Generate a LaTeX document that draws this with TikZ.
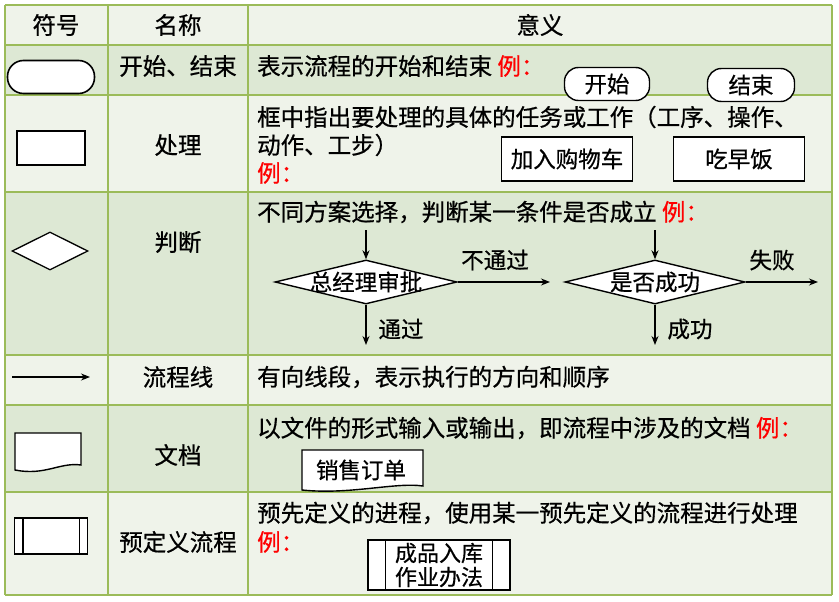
\documentclass[tikz,border=0pt]{standalone}
\usepackage{fontspec}
\setmainfont{Noto Sans CJK SC}[FakeBold=0.6,AutoFakeBold=0.6]
\usetikzlibrary{shapes.geometric,arrows.meta}
\definecolor{lt}{HTML}{EFF3EA}
\definecolor{dk}{HTML}{DDE8D4}
\definecolor{bd}{HTML}{9BBB59}
\begin{document}
\begin{tikzpicture}[x=1pt,y=-1pt,
  txt/.style={inner sep=0pt,font=\fontsize{23.5}{27}\selectfont\bfseries},
  lt3/.style={txt,anchor=west},
  red/.style={text=red},
  shp/.style={draw=black,line width=1.6pt,fill=white},
  term/.style={shp,rounded corners=16pt},
  ex/.style={draw=black,line width=1.4pt,fill=white,inner sep=2pt,font=\fontsize{22.5}{25}\selectfont},
  extxt/.style={inner sep=0pt,font=\fontsize{22.5}{25}\selectfont},
  arr/.style={-{Stealth[length=9pt,width=7pt]},line width=1.3pt}]
\useasboundingbox (0,0) rectangle (839,602);
\fill[white] (0,0) rectangle (839,602);
% row backgrounds
\fill[lt] (5,5) rectangle (832,45);
\fill[dk] (5,45) rectangle (832,95);
\fill[lt] (5,95) rectangle (832,192);
\fill[dk] (5,192) rectangle (832,355);
\fill[lt] (5,355) rectangle (832,405);
\fill[dk] (5,405) rectangle (832,492);
\fill[lt] (5,492) rectangle (832,595);
\foreach \y in {5,45,95,192,355,405,492,595} \draw[bd,line width=1.2pt] (5,\y) -- (832,\y);
\foreach \x in {5,108,248,832} \draw[bd,line width=1.2pt] (\x,5) -- (\x,595);
% header
\node[txt] (h1) at (56,25) {符号};
\node[txt] (h2) at (178,25) {名称};
\node[txt] (h3) at (540,25) {意义};
% row 1
\node[term,minimum width=87pt,minimum height=33pt,rounded corners=16pt] (s1) at (51,77) {};
\node[txt] (n1) at (178,66) {开始、结束};
\node[lt3] (d1) at (257,66) {表示流程的开始和结束 \textcolor{red}{例：}};
\node[ex,rounded corners=14pt,minimum width=85pt,minimum height=33pt] (e1a) at (607,84) {开始};
\node[ex,rounded corners=14pt,minimum width=87pt,minimum height=33pt] (e1b) at (751,85) {结束};
% row 2
\node[shp,minimum width=68pt,minimum height=34pt,line width=1.4pt] (s2) at (51,148) {};
\node[txt] (n2) at (178,145) {处理};
\node[lt3] (d2a) at (257,117) {框中指出要处理的具体的任务或工作（工序、操作、};
\node[lt3] (d2b) at (257,145) {动作、工步）};
\node[lt3,red] (d2c) at (257,173) {例：};
\node[ex,minimum width=131pt,minimum height=44pt] (e2a) at (567,159) {加入购物车};
\node[ex,minimum width=131pt,minimum height=44pt] (e2b) at (739,159) {吃早饭};
% row 3
\node[shp,diamond,aspect=2,minimum width=76pt,minimum height=38pt,inner sep=0pt,line width=1.3pt] (s3) at (50,251) {};
\node[txt] (n3) at (178,242) {判断};
\node[lt3] (d3) at (257,212) {不同方案选择，判断某一条件是否成立 \textcolor{red}{例：}};
\node[ex,diamond,aspect=4.2,minimum width=182pt,minimum height=44pt,inner sep=0pt] (q1) at (366,282) {};
\node[extxt] (q1t) at (q1) {总经理审批};
\node[ex,diamond,aspect=4.2,minimum width=180pt,minimum height=44pt,inner sep=0pt] (q2) at (655,282) {};
\node[extxt] (q2t) at (q2) {是否成功};
\coordinate (q1in) at (366,230);
\coordinate (q1r) at (550,282);
\coordinate (q1d) at (366,345);
\coordinate (q2in) at (655,230);
\coordinate (q2r) at (818,282);
\coordinate (q2d) at (655,345);
\draw[arr] (q1in) -- (q1.north);
\draw[arr] (q1.east) -- (q1r);
\draw[arr] (q1.south) -- (q1d);
\draw[arr] (q2in) -- (q2.north);
\draw[arr] (q2.east) -- (q2r);
\draw[arr] (q2.south) -- (q2d);
\node[extxt] (l1) at (495,260) {不通过};
\node[extxt] (l2) at (401,329) {通过};
\node[extxt] (l3) at (772,260) {失败};
\node[extxt] (l4) at (690,329) {成功};
% row 4
\coordinate (a1) at (12,377);
\coordinate (a2) at (90,377);
\draw[arr,line width=1.1pt] (a1) -- (a2);
\node[txt] (n4) at (178,377) {流程线};
\node[lt3] (d4) at (257,377) {有向线段，表示执行的方向和顺序};
% row 5
\coordinate (s5) at (15,433);
\draw[shp,line width=1.4pt] (s5) -- (81,433) -- (81,465) .. controls (60,462) and (45,476) .. (15,470) -- cycle;
\node[txt] (n5) at (178,455) {文档};
\node[lt3] (d5) at (257,428) {以文件的形式输入或输出，即流程中涉及的文档 \textcolor{red}{例：}};
\draw[line width=1.4pt,fill=white] (302,450) -- (423,450) -- (423,486) .. controls (395,482) and (350,495) .. (302,490) -- cycle;
\node[extxt] (e5) at (361,470) {销售订单};
% row 6
\node[shp,minimum width=73pt,minimum height=36pt,line width=1.4pt] (s6) at (51,536) {};
\draw[line width=1.4pt] ([xshift=9pt]s6.north west) -- ([xshift=9pt]s6.south west);
\draw[line width=1.4pt] ([xshift=-9pt]s6.north east) -- ([xshift=-9pt]s6.south east);
\node[txt] (n6) at (178,542) {预定义流程};
\node[lt3] (d6a) at (257,513) {预先定义的进程，使用某一预先定义的流程进行处理};
\node[lt3,red] (d6b) at (257,542) {例：};
\node[ex,minimum width=142pt,minimum height=50pt,inner sep=0pt,align=center,font=\fontsize{22}{24}\selectfont] (e6) at (439,565) {成品入库\\作业办法};
\draw[line width=1.4pt] ([xshift=18pt]e6.north west) -- ([xshift=18pt]e6.south west);
\draw[line width=1.4pt] ([xshift=-18pt]e6.north east) -- ([xshift=-18pt]e6.south east);
\end{tikzpicture}
\end{document}
